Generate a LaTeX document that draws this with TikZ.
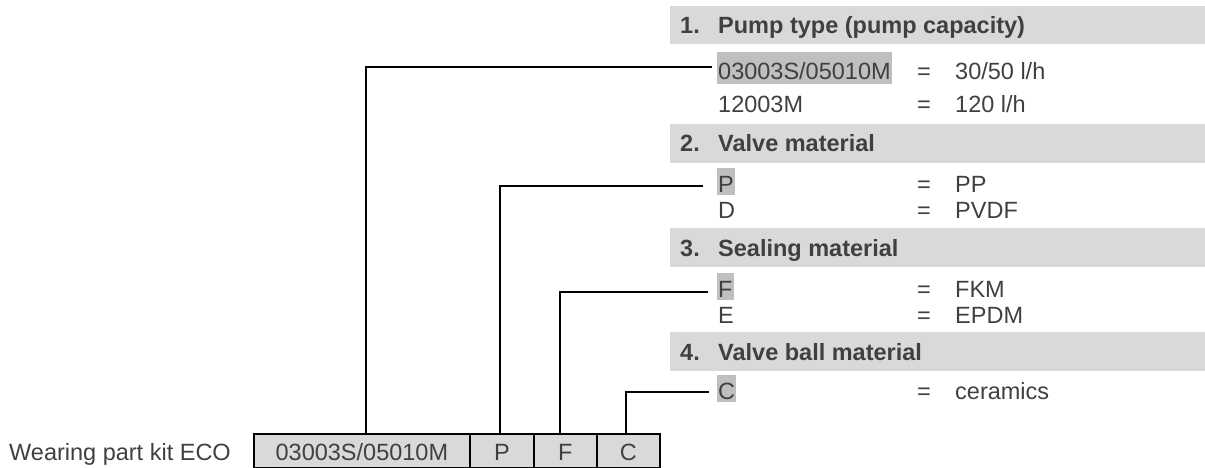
\documentclass[tikz,border=0pt]{standalone}
\usepackage{fontspec}
\setmainfont{Liberation Sans}
\definecolor{txt}{HTML}{404040}
\definecolor{barfill}{HTML}{D9D9D9}
\definecolor{hlfill}{HTML}{BFBFBF}
\tikzset{
  lbl/.style={font=\fontsize{23.5}{28}\selectfont, text=txt, inner sep=0pt, anchor=base west},
  hdr/.style={lbl, font=\fontsize{23.5}{28}\selectfont\bfseries},
  hlcode/.style={lbl, fill=hlfill, inner xsep=1pt, inner ysep=0pt, text height=24pt, text depth=3pt},
  cellbox/.style={draw=black, line width=1.8pt, fill=barfill, minimum height=34pt, inner sep=0pt,
    anchor=north west, font=\fontsize{23.5}{28}\selectfont, text=txt, text height=20pt, text depth=0pt},
  conn/.style={draw=black, line width=1.2pt},
  hdrbar/.style={fill=barfill}
}
\begin{document}
\begin{tikzpicture}[x=1pt,y=-1pt]
\path[use as bounding box] (0,0) rectangle (1205,468);

% header bars
\fill[hdrbar] (670,6) rectangle (1205,44);
\fill[hdrbar] (670,124) rectangle (1205,163);
\fill[hdrbar] (670,228) rectangle (1205,267);
\fill[hdrbar] (670,332) rectangle (1205,371);

\node[hdr] (n1) at (680,34) {1.};
\node[hdr] (h1) at (718,34) {Pump type (pump capacity)};
\node[hdr] (n2) at (680,152) {2.};
\node[hdr] (h2) at (718,152) {Valve material};
\node[hdr] (n3) at (680,256) {3.};
\node[hdr] (h3) at (718,256) {Sealing material};
\node[hdr] (n4) at (680,360) {4.};
\node[hdr] (h4) at (718,360) {Valve ball material};

% option rows
\node[hlcode, text height=28pt, text depth=4pt] (c1) at (717,80) {03003S/05010M};
\node[lbl] (q1) at (917,80) {=};
\node[lbl] (v1) at (955,80) {30/50 l/h};
\node[lbl] (c1b) at (718,113) {12003M};
\node[lbl] (q1b) at (917,113) {=};
\node[lbl] (v1b) at (955,113) {120 l/h};

\node[hlcode] (c2) at (717,192) {P};
\node[lbl] (q2) at (917,192) {=};
\node[lbl] (v2) at (955,192) {PP};
\node[lbl] (c2b) at (718,218) {D};
\node[lbl] (q2b) at (917,218) {=};
\node[lbl] (v2b) at (955,218) {PVDF};

\node[hlcode] (c3) at (717,297) {F};
\node[lbl] (q3) at (917,297) {=};
\node[lbl] (v3) at (955,297) {FKM};
\node[lbl] (c3b) at (718,323) {E};
\node[lbl] (q3b) at (917,323) {=};
\node[lbl] (v3b) at (955,323) {EPDM};

\node[hlcode] (c4) at (717,399) {C};
\node[lbl] (q4) at (917,399) {=};
\node[lbl] (v4) at (955,399) {ceramics};

% order code box
\node[lbl] (title) at (9,460) {Wearing part kit ECO};
\node[cellbox, minimum width=216pt] (k1) at (253,433) {03003S/05010M};
\node[cellbox, minimum width=64pt] (k2) at (469,433) {P};
\node[cellbox, minimum width=63pt] (k3) at (533,433) {F};
\node[cellbox, minimum width=63pt] (k4) at (596,433) {C};

% connectors
\coordinate (e1) at (712,67);
\coordinate (e2) at (703,186);
\coordinate (e3) at (708,292);
\coordinate (e4) at (709,392);
\draw[conn] ([xshift=4pt]k1.north) |- (e1);
\draw[conn] ([xshift=-2pt]k2.north) |- (e2);
\draw[conn] ([xshift=-5.5pt]k3.north) |- (e3);
\draw[conn] ([xshift=-2.5pt]k4.north) |- (e4);
\end{tikzpicture}
\end{document}
